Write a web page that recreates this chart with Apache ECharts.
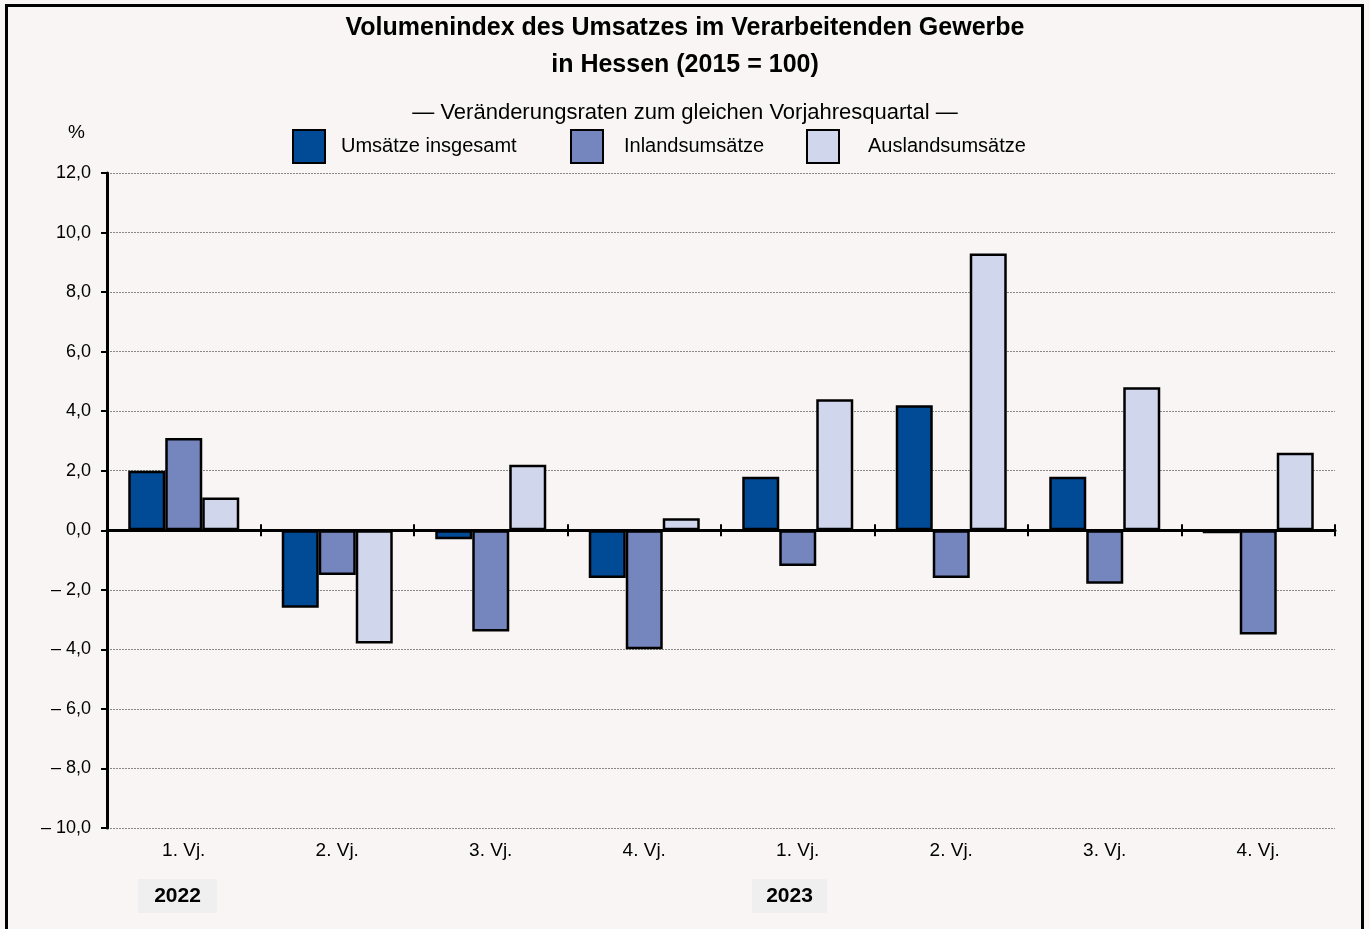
<!DOCTYPE html>
<html>
<head>
<meta charset="utf-8">
<script src="https://cdn.jsdelivr.net/npm/echarts@6/dist/echarts.min.js"></script>
<style>
  html, body { margin: 0; padding: 0; background: #f8f5f4; }
  #chart { width: 1370px; height: 929px; }
</style>
</head>
<body>
<div id="chart"></div>
<script>
  // Quartale 2022 / 2023
  var quarters = ['1. Vj.', '2. Vj.', '3. Vj.', '4. Vj.', '1. Vj.', '2. Vj.', '3. Vj.', '4. Vj.'];
  var years = ['2022', '2023'];
  var seriesNames = ['Umsätze insgesamt', 'Inlandsumsätze', 'Auslandsumsätze'];
  var umsatzGesamt = [2.0, -2.6, -0.3, -1.6, 1.8, 4.2, 1.8, -0.1];
  var inlandUmsatz = [3.1, -1.5, -3.4, -4.0, -1.2, -1.6, -1.8, -3.5];
  var auslandUmsatz = [1.1, -3.8, 2.2, 0.4, 4.4, 9.3, 4.8, 2.6];
  var colors = ['#004a96', '#7586be', '#d0d6eb'];

  var font = '"Liberation Sans", Arial, sans-serif';

  function fmt(v) {
    var s = Math.abs(v).toFixed(1).replace('.', ',');
    return v < 0 ? '\u2013 ' + s : s;
  }

  let myChart = echarts.init(document.getElementById('chart'));

  // je Legendeneintrag eine eigene Legende, damit die Abstaende stimmen
  var legends = [
    {x: 292, textPad: 11},
    {x: 570, textPad: 16},
    {x: 806, textPad: 24}
  ].map(function (l, i) {
    return {
      data: [seriesNames[i]],
      left: l.x, top: 129,
      padding: 0,
      itemWidth: 32, itemHeight: 33,
      icon: 'rect',
      itemStyle: {borderColor: '#000', borderWidth: 2},
      textStyle: {fontFamily: font, fontSize: 20, color: '#000', padding: [6, 0, 0, l.textPad]},
      selectedMode: false
    };
  });

  myChart.setOption({
    backgroundColor: '#f8f5f4',
    animation: false,
    title: [
      {
        text: 'Volumenindex des Umsatzes im Verarbeitenden Gewerbe\nin Hessen (2015 = 100)',
        left: 'center', top: 5,
        textStyle: {fontFamily: font, fontSize: 25, fontWeight: 'bold', color: '#000', lineHeight: 37}
      },
      {
        text: '\u2014 Veränderungsraten zum gleichen Vorjahresquartal \u2014',
        left: 'center', top: 97,
        textStyle: {fontFamily: font, fontSize: 22, fontWeight: 'normal', color: '#000'}
      }
    ],
    legend: legends,
    grid: {left: 107, right: 35, top: 173, bottom: 101, containLabel: false},
    xAxis: [
      {
        type: 'category',
        data: quarters,
        position: 'bottom',
        axisLine: {show: false, onZero: false},
        axisTick: {show: false},
        axisLabel: {fontFamily: font, fontSize: 19, color: '#000', margin: 13}
      },
      {
        type: 'category',
        data: quarters,
        position: 'bottom',
        axisLine: {show: true, onZero: true, onZeroAxisIndex: 0, lineStyle: {color: '#000', width: 3}},
        axisTick: {show: true, length: 6, lineStyle: {color: '#000', width: 2}},
        axisLabel: {show: false}
      },
      {
        type: 'category',
        data: quarters,
        position: 'bottom',
        axisLine: {show: false, onZero: true, onZeroAxisIndex: 0},
        axisTick: {show: true, inside: true, length: 6, lineStyle: {color: '#000', width: 2}},
        axisLabel: {show: false}
      }
    ],
    yAxis: {
      type: 'value',
      min: -10, max: 12, interval: 2,
      name: '%',
      nameLocation: 'end',
      nameGap: 31,
      nameTextStyle: {fontFamily: font, fontSize: 19, color: '#000', align: 'right', padding: [0, 22, 0, 0]},
      axisLine: {show: true, lineStyle: {color: '#000', width: 3}},
      axisTick: {show: true, length: 6, lineStyle: {color: '#000', width: 2}},
      axisLabel: {fontFamily: font, fontSize: 18, color: '#000', margin: 16, formatter: fmt},
      splitLine: {show: true, lineStyle: {color: '#888', type: [2, 1], width: 1}}
    },
    series: [umsatzGesamt, inlandUmsatz, auslandUmsatz].map(function (d, i) {
      return {
        name: seriesNames[i],
        type: 'bar',
        data: d,
        barWidth: 37,
        barGap: '0%',
        itemStyle: {color: colors[i], borderColor: '#000', borderWidth: 2.5},
        z: 1
      };
    }),
    graphic: [
      {
        type: 'rect',
        shape: {x: 6.5, y: 5.5, width: 1356, height: 940},
        style: {fill: null, stroke: '#000', lineWidth: 3},
        silent: true
      },
      {
        type: 'group',
        left: 138, top: 879,
        children: [
          {type: 'rect', shape: {x: 0, y: 0, width: 79, height: 34}, style: {fill: '#efefef'}},
          {type: 'text', x: 39.5, y: 17, style: {text: years[0], font: 'bold 21px ' + font, fill: '#000', align: 'center', verticalAlign: 'middle'}}
        ]
      },
      {
        type: 'group',
        left: 752, top: 879,
        children: [
          {type: 'rect', shape: {x: 0, y: 0, width: 75, height: 34}, style: {fill: '#efefef'}},
          {type: 'text', x: 37.5, y: 17, style: {text: years[1], font: 'bold 21px ' + font, fill: '#000', align: 'center', verticalAlign: 'middle'}}
        ]
      }
    ]
  });
</script>
</body>
</html>
